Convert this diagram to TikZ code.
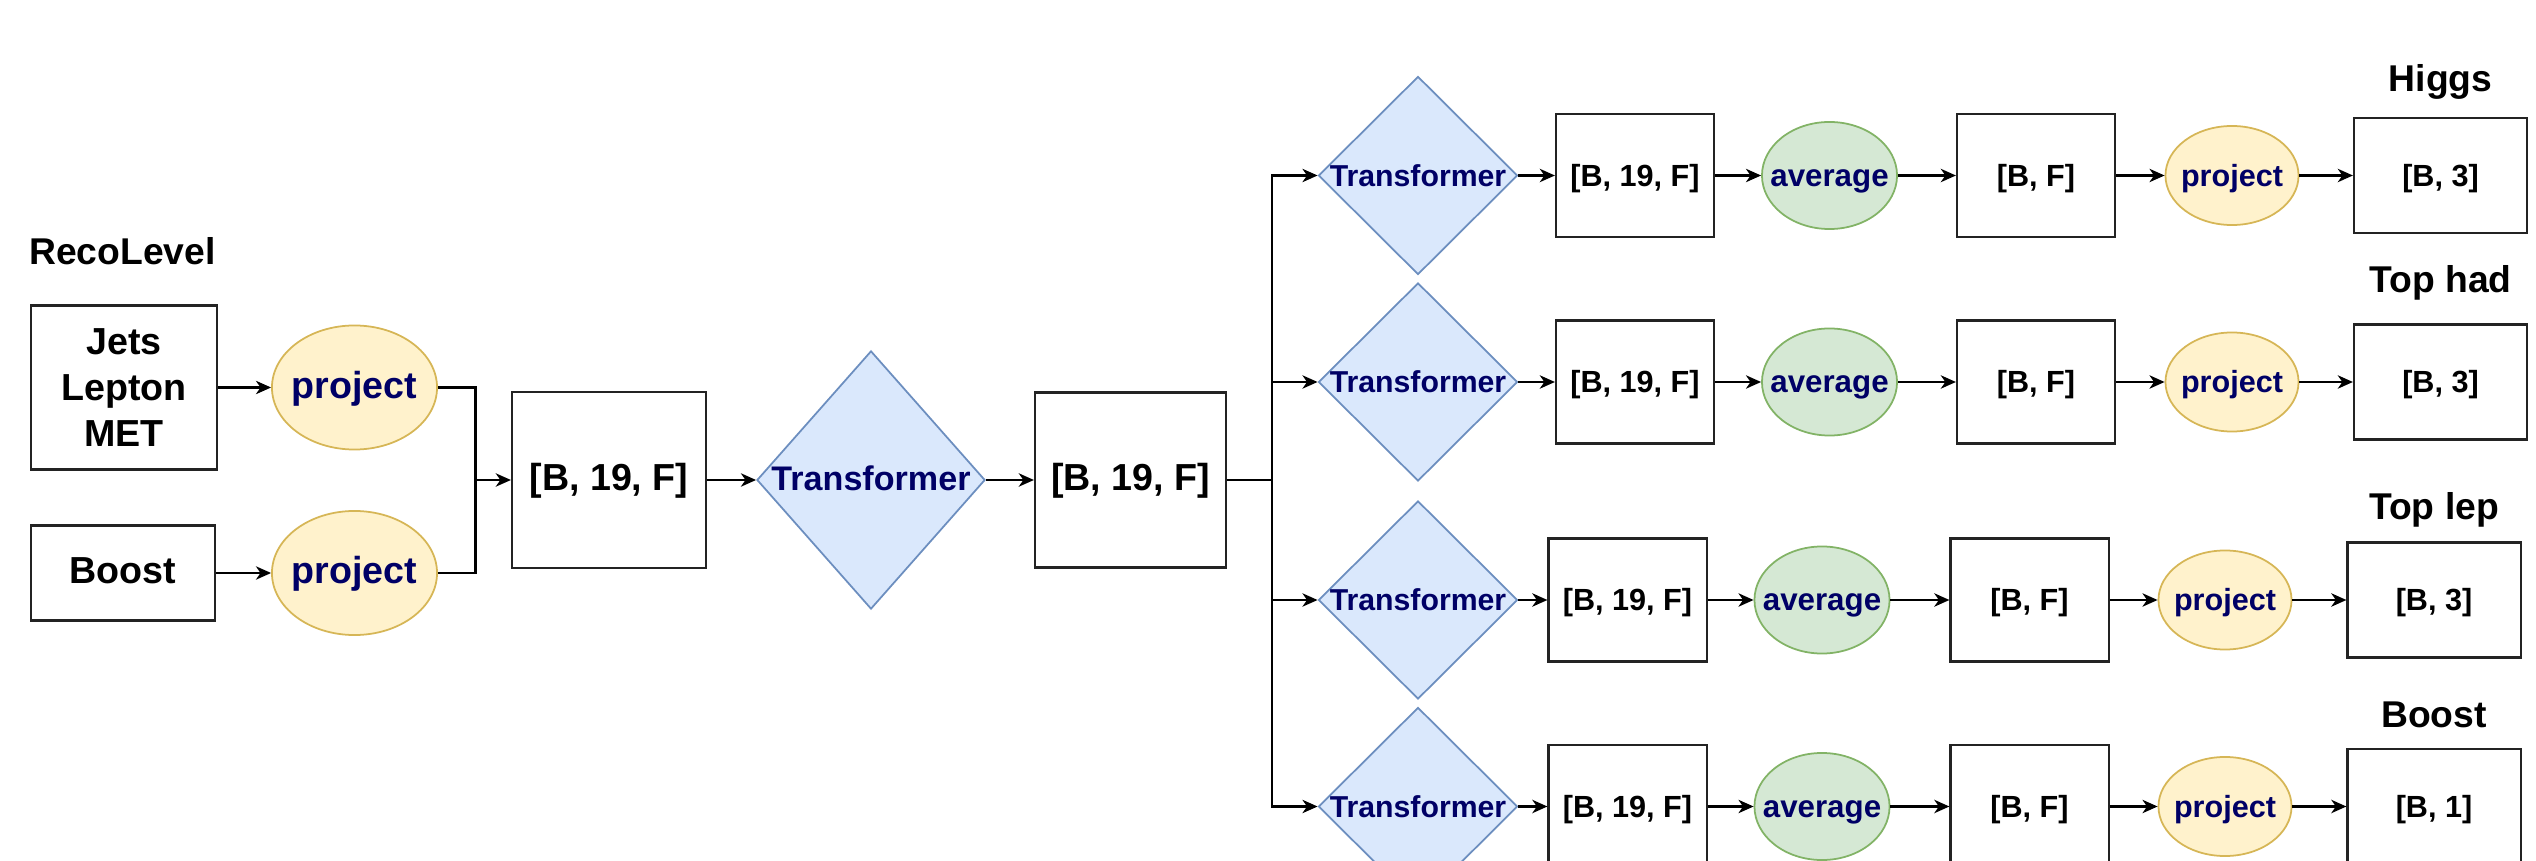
\documentclass[tikz,border=0pt]{standalone}
\usepackage{fontspec}
\setmainfont{Liberation Sans}
\usepackage{tikz}
\usetikzlibrary{shapes.geometric, arrows.meta, positioning}
\definecolor{boxline}{RGB}{35,35,35}
\definecolor{navytext}{RGB}{0,0,102}
\definecolor{transfill}{RGB}{218,232,252}
\definecolor{transline}{RGB}{108,142,191}
\definecolor{projfill}{RGB}{255,242,204}
\definecolor{projline}{RGB}{214,182,86}
\definecolor{avgfill}{RGB}{213,232,212}
\definecolor{avgline}{RGB}{130,179,102}
% text wider than its shape must not grow the shape
\newcommand{\slim}[1]{\makebox[0pt]{#1}}
\tikzstyle{oneline} = [text height=0.8em, text depth=0.18em]
\tikzstyle{heading} = [anchor=base, inner sep=0pt, font=\bfseries\fontsize{10.6}{13}\selectfont]
\tikzstyle{tensor} = [rectangle, draw=boxline, line width=0.6pt, fill=white, inner sep=0pt, align=center, font=\bfseries\fontsize{10.7}{13.1}\selectfont]
\tikzstyle{rowbox} = [tensor, oneline, minimum width=1.58cm, minimum height=1.23cm, font=\bfseries\fontsize{8.7}{10}\selectfont]
\tikzstyle{outbox} = [tensor, oneline, minimum width=1.73cm, minimum height=1.15cm, font=\bfseries\fontsize{8.7}{10}\selectfont]
\tikzstyle{transformer} = [diamond, oneline, draw=transline, fill=transfill, line width=0.5pt, inner sep=0pt, minimum width=1.99cm, minimum height=1.98cm, text=navytext, font=\bfseries\fontsize{8.6}{10}\selectfont]
\tikzstyle{projectnode} = [ellipse, oneline, draw=projline, fill=projfill, line width=0.5pt, inner sep=0pt, minimum width=1.33cm, minimum height=0.99cm, text=navytext, font=\bfseries\fontsize{8.7}{10}\selectfont]
\tikzstyle{projectbig} = [projectnode, minimum width=1.65cm, minimum height=1.24cm, font=\bfseries\fontsize{10.7}{13}\selectfont]
\tikzstyle{averagenode} = [ellipse, oneline, draw=avgline, fill=avgfill, line width=0.5pt, inner sep=0pt, minimum width=1.35cm, minimum height=1.07cm, text=navytext, font=\bfseries\fontsize{8.9}{10}\selectfont]
\tikzstyle{wire} = [line width=0.6pt, draw=black]
\tikzstyle{arrow} = [wire, -{Stealth[length=4.3pt, width=3.8pt, inset=1.3pt]}]

\begin{document}
\begin{tikzpicture}[x=0.01cm, y=-0.01cm]
\useasboundingbox (0,0) rectangle (2536,861);
\clip (0,0) rectangle (2536,861);

% Inputs
\node (recolevel) [heading] at (122.5,265) {RecoLevel};
\node (objects) [tensor, minimum width=1.86cm, minimum height=1.64cm] at (124,387.5) {Jets\\Lepton\\MET};
\node (boostin) [tensor, oneline, minimum width=1.84cm, minimum height=0.95cm] at (123,573) {Boost};
\node (projobj) [projectbig] at (354.5,387.5) {\slim{project}};
\node (projboost) [projectbig] at (354.5,573) {\slim{project}};

% Shared encoder
\coordinate (merge) at (475.5,480);
\node (merged) [tensor, oneline, minimum width=1.94cm, minimum height=1.76cm] at (609,480) {[B, 19, F]};
\node (encoder) [transformer, minimum width=2.28cm, minimum height=2.58cm, font=\bfseries\fontsize{9.7}{11}\selectfont] at (871,480) {\slim{Transformer}};
\node (encoded) [tensor, oneline, minimum width=1.91cm, minimum height=1.75cm] at (1130.5,480) {[B, 19, F]};
\coordinate (split) at (1272,480);

% Row 1 - Higgs
\node (titlehiggs) [heading] at (2440.5,92) {Higgs};
\node (transhiggs) [transformer] at (1418,175.5) {\slim{Transformer}};
\node (seqhiggs) [rowbox] at (1635,175.5) {[B, 19, F]};
\node (avghiggs) [averagenode] at (1829.5,175.5) {\slim{average}};
\node (feathiggs) [rowbox] at (2036,175.5) {[B, F]};
\node (projhiggs) [projectnode] at (2232,175.5) {\slim{project}};
\node (outhiggs) [outbox] at (2440.5,175.5) {[B, 3]};

% Row 2 - Top had
\node (titlethad) [heading] at (2440.5,293) {Top had};
\node (transthad) [transformer] at (1418,382) {\slim{Transformer}};
\node (seqthad) [rowbox] at (1635,382) {[B, 19, F]};
\node (avgthad) [averagenode] at (1829.5,382) {\slim{average}};
\node (featthad) [rowbox] at (2036,382) {[B, F]};
\node (projthad) [projectnode] at (2232,382) {\slim{project}};
\node (outthad) [outbox] at (2440.5,382) {[B, 3]};

% Row 3 - Top lep
\node (titletlep) [heading] at (2434,520) {Top lep};
\node (transtlep) [transformer] at (1418,600) {\slim{Transformer}};
\node (seqtlep) [rowbox] at (1627.5,600) {[B, 19, F]};
\node (avgtlep) [averagenode] at (1822,600) {\slim{average}};
\node (feattlep) [rowbox] at (2029.5,600) {[B, F]};
\node (projtlep) [projectnode] at (2225,600) {\slim{project}};
\node (outtlep) [outbox] at (2434,600) {[B, 3]};

% Row 4 - Boost
\node (titleboost) [heading] at (2434,727) {Boost};
\node (transboost) [transformer] at (1418,806.5) {\slim{Transformer}};
\node (seqboost) [rowbox] at (1627.5,806.5) {[B, 19, F]};
\node (avgboost) [averagenode] at (1822,806.5) {\slim{average}};
\node (featboost) [rowbox] at (2029.5,806.5) {[B, F]};
\node (projboost2) [projectnode] at (2225,806.5) {\slim{project}};
\node (outboost) [outbox] at (2434,806.5) {[B, 1]};

% Arrows
\draw [arrow] (objects) -- (projobj);
\draw [arrow] (boostin) -- (projboost);
\draw [wire] (projobj) -| (merge);
\draw [wire] (projboost) -| (merge);
\draw [arrow] (merge) -- (merged);
\draw [arrow] (merged) -- (encoder);
\draw [arrow] (encoder) -- (encoded);
\draw [wire] (encoded) -- (split);
\draw [arrow] (split) |- (transhiggs);
\draw [arrow] (split) |- (transthad);
\draw [arrow] (split) |- (transtlep);
\draw [arrow] (split) |- (transboost);

\draw [arrow] (transhiggs) -- (seqhiggs);
\draw [arrow] (seqhiggs) -- (avghiggs);
\draw [arrow] (avghiggs) -- (feathiggs);
\draw [arrow] (feathiggs) -- (projhiggs);
\draw [arrow] (projhiggs) -- (outhiggs);

\draw [arrow] (transthad) -- (seqthad);
\draw [arrow] (seqthad) -- (avgthad);
\draw [arrow] (avgthad) -- (featthad);
\draw [arrow] (featthad) -- (projthad);
\draw [arrow] (projthad) -- (outthad);

\draw [arrow] (transtlep) -- (seqtlep);
\draw [arrow] (seqtlep) -- (avgtlep);
\draw [arrow] (avgtlep) -- (feattlep);
\draw [arrow] (feattlep) -- (projtlep);
\draw [arrow] (projtlep) -- (outtlep);

\draw [arrow] (transboost) -- (seqboost);
\draw [arrow] (seqboost) -- (avgboost);
\draw [arrow] (avgboost) -- (featboost);
\draw [arrow] (featboost) -- (projboost2);
\draw [arrow] (projboost2) -- (outboost);

\end{tikzpicture}
\end{document}
